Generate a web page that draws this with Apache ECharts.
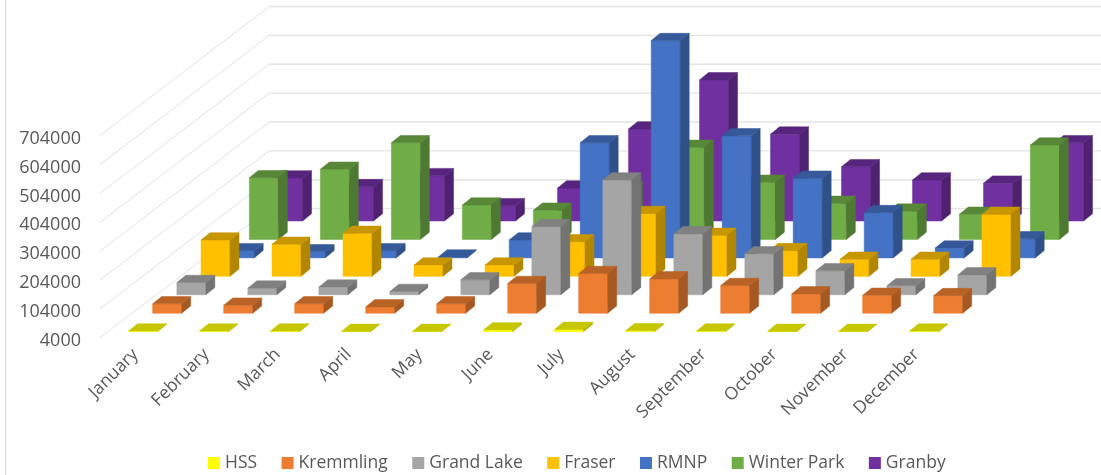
<!DOCTYPE html>
<html>
<head>
<meta charset="utf-8">
<style>html,body{margin:0;padding:0;background:#fff}#c{width:1101px;height:475px}</style>
<script src="https://cdn.jsdelivr.net/npm/echarts@6/dist/echarts.min.js"></script>
</head>
<body>
<div id="c"></div>
<script>
const months = ['January','February','March','April','May','June','July','August','September','October','November','December'];
const yTicks = [4000,104000,204000,304000,404000,504000,604000,704000];
const names = ['HSS','Kremmling','Grand Lake','Fraser','RMNP','Winter Park','Granby'];
const colors = ['#FFFF00','#ED7D31','#A5A5A5','#FFC000','#4472C4','#70AD47','#7030A0'];
const hss = [6000,6000,6000,5000,5000,10000,12000,7000,6000,5000,5000,6000];
const kremmling = [36500,31700,36500,26000,36500,107000,141600,123000,100000,71000,66000,65000];
const grandLake = [46600,27000,30700,15400,56000,240700,402000,215000,146000,87000,35000,73000];
const fraser = [130000,115000,153000,43000,43000,124000,222000,146000,93000,63000,63000,219000];
const rmnp = [29000,25000,29000,7000,66000,403000,757000,427000,280000,161000,38000,70000];
const winterPark = [218000,247000,339000,123000,105000,180000,323000,202000,129000,102000,91000,331000];
const granby = [153000,123000,161000,57000,118000,323000,493000,305000,192000,146000,135000,275000];
const rows = [hss,kremmling,grandLake,fraser,rmnp,winterPark,granby];

const STEP_X = 24.17, STEP_Y = -18.45, BAR_W = 29, DEEP_X = 9, DEEP_Y = -7.3, IN_X = 7.5, IN_Y = -6;
const shade = (hex, f) => {
  const n = parseInt(hex.slice(1), 16);
  const c = s => Math.round(((n >> s) & 255) * f);
  return 'rgb(' + c(16) + ',' + c(8) + ',' + c(0) + ')';
};
const FLOOR = yTicks[0];

const barSeries = rows.map((vals, r) => ({
  type: 'custom',
  name: names[r],
  coordinateSystem: 'cartesian2d',
  itemStyle: { color: colors[r] },
  silent: true,
  z: 10 + (rows.length - r),
  encode: { x: 0, y: 1 },
  data: vals.map((v, i) => [i, v]),
  renderItem: (params, api) => {
    const base = api.coord([api.value(0), FLOOR]);
    const top = api.coord([api.value(0), api.value(1)]);
    const x0 = base[0] - BAR_W / 2 + IN_X + r * STEP_X;
    const x1 = x0 + BAR_W;
    const shiftY = IN_Y + r * STEP_Y;
    const yb = base[1] + shiftY, yt = top[1] + shiftY;
    const poly = (pts, fill) => ({ type: 'polygon', shape: { points: pts }, style: { fill: fill, stroke: fill, lineWidth: 0.5 } });
    return { type: 'group', children: [
      poly([[x0, yb], [x1, yb], [x1, yt], [x0, yt]], colors[r]),
      poly([[x1, yb], [x1 + DEEP_X, yb + DEEP_Y], [x1 + DEEP_X, yt + DEEP_Y], [x1, yt]], shade(colors[r], 0.7)),
      poly([[x0, yt], [x1, yt], [x1 + DEEP_X, yt + DEEP_Y], [x0 + DEEP_X, yt + DEEP_Y]], shade(colors[r], 0.78))
    ] };
  }
}));

const wallSeries = {
  type: 'custom',
  name: 'walls',
  coordinateSystem: 'cartesian2d',
  silent: true,
  z: 1,
  encode: { y: 0 },
  data: yTicks.map(v => [v]),
  renderItem: (params, api) => {
    const band = api.size([1, 0])[0];
    const p = api.coord([0, api.value(0)]);
    const x = p[0] - band / 2, y = p[1];
    const bx = x + STEP_X * rows.length, by = y + STEP_Y * rows.length;
    return { type: 'group', children: [
      { type: 'line', shape: { x1: x, y1: y, x2: bx, y2: by }, style: { stroke: '#e2e2e2', lineWidth: 1 } },
      { type: 'line', shape: { x1: bx, y1: by, x2: bx + band * months.length, y2: by }, style: { stroke: '#e4e4e4', lineWidth: 1.4 } }
    ] };
  }
};

const chart = echarts.init(document.getElementById('c'), null, { renderer: 'canvas' });
chart.setOption({
  animation: false,
  backgroundColor: '#fff',
  textStyle: { fontFamily: 'Open Sans' },
  grid: { left: 100, width: 852, top: 135.7, height: 202 },
  graphic: [{ type: 'line', shape: { x1: 5.5, y1: 0, x2: 5.5, y2: 475 }, style: { stroke: '#d9d9d9', lineWidth: 1 }, silent: true }],
  legend: {
    left: 203, top: 449, itemWidth: 12, itemHeight: 12, itemGap: 24.5,
    icon: 'rect', selectedMode: false, data: names,
    textStyle: { fontSize: 17.5, color: '#595959', fontFamily: 'Open Sans', padding: [0, 0, 0, 0] }
  },
  xAxis: {
    type: 'category', data: months,
    axisLine: { show: false }, axisTick: { show: false }, splitLine: { show: false },
    axisLabel: { rotate: 45, interval: 0, margin: 14, fontSize: 17.5, color: '#595959', fontFamily: 'Open Sans' }
  },
  yAxis: {
    type: 'value', min: yTicks[0], max: yTicks[yTicks.length - 1],
    axisLine: { show: false }, axisTick: { show: false }, splitLine: { show: false },
    axisLabel: { customValues: yTicks, formatter: v => String(v), margin: 19, fontSize: 18, color: '#595959', fontFamily: 'Open Sans', verticalAlign: 'bottom', padding: [0, 0, -12, 0] }
  },
  series: [wallSeries].concat(barSeries)
});
</script>
</body>
</html>
